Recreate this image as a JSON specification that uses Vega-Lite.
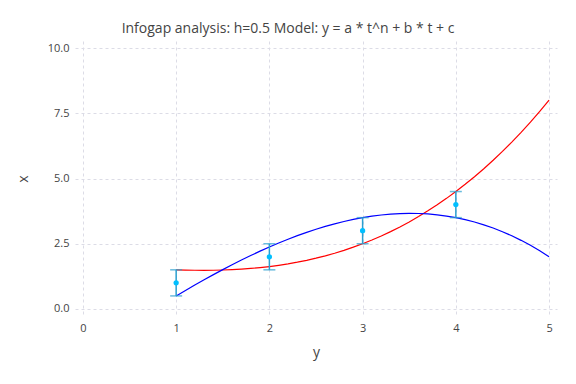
{
  "$schema": "https://vega.github.io/schema/vega-lite/v6.json",
  "width": 482,
  "height": 275,
  "autosize": "none",
  "padding": {"left": 75, "top": 41, "right": 19, "bottom": 68},
  "background": "white",
  "title": {
    "text": "Infogap analysis: h=0.5 Model: y = a * t^n + b * t + c",
    "font": "Open Sans",
    "fontSize": 14,
    "fontWeight": "normal",
    "color": "#444444",
    "anchor": "middle",
    "dx": -28,
    "offset": 5
  },
  "config": {
    "view": {"stroke": null},
    "axis": {
      "labelFont": "Open Sans",
      "titleFont": "Open Sans",
      "labelColor": "#444444",
      "titleColor": "#444444",
      "labelFontSize": 11,
      "titleFontSize": 14,
      "titleFontWeight": "normal",
      "domain": false,
      "ticks": false,
      "gridColor": "#dcdce6",
      "gridDash": [3, 3],
      "gridWidth": 1
    }
  },
  "datasets": {
    "curves": [
      {"t": 1.0, "red": 1.5, "blue": 0.5},
      {"t": 1.1, "red": 1.4895, "blue": 0.7106},
      {"t": 1.2, "red": 1.483, "blue": 0.917},
      {"t": 1.3, "red": 1.481, "blue": 1.119},
      {"t": 1.4, "red": 1.484, "blue": 1.316},
      {"t": 1.5, "red": 1.4922, "blue": 1.5078},
      {"t": 1.6, "red": 1.506, "blue": 1.694},
      {"t": 1.7, "red": 1.5258, "blue": 1.8742},
      {"t": 1.8, "red": 1.552, "blue": 2.048},
      {"t": 1.9, "red": 1.5849, "blue": 2.2151},
      {"t": 2.0, "red": 1.625, "blue": 2.375},
      {"t": 2.1, "red": 1.6726, "blue": 2.5274},
      {"t": 2.2, "red": 1.728, "blue": 2.672},
      {"t": 2.3, "red": 1.7917, "blue": 2.8083},
      {"t": 2.4, "red": 1.864, "blue": 2.936},
      {"t": 2.5, "red": 1.9453, "blue": 3.0547},
      {"t": 2.6, "red": 2.036, "blue": 3.164},
      {"t": 2.7, "red": 2.1364, "blue": 3.2636},
      {"t": 2.8, "red": 2.247, "blue": 3.353},
      {"t": 2.9, "red": 2.368, "blue": 3.432},
      {"t": 3.0, "red": 2.5, "blue": 3.5},
      {"t": 3.1, "red": 2.6432, "blue": 3.5569},
      {"t": 3.2, "red": 2.798, "blue": 3.602},
      {"t": 3.3, "red": 2.9648, "blue": 3.6352},
      {"t": 3.4, "red": 3.144, "blue": 3.656},
      {"t": 3.5, "red": 3.3359, "blue": 3.6641},
      {"t": 3.6, "red": 3.541, "blue": 3.659},
      {"t": 3.7, "red": 3.7596, "blue": 3.6405},
      {"t": 3.8, "red": 3.992, "blue": 3.608},
      {"t": 3.9, "red": 4.2387, "blue": 3.5614},
      {"t": 4.0, "red": 4.5, "blue": 3.5},
      {"t": 4.1, "red": 4.7763, "blue": 3.4237},
      {"t": 4.2, "red": 5.068, "blue": 3.332},
      {"t": 4.3, "red": 5.3754, "blue": 3.2246},
      {"t": 4.4, "red": 5.699, "blue": 3.101},
      {"t": 4.5, "red": 6.0391, "blue": 2.961},
      {"t": 4.6, "red": 6.396, "blue": 2.804},
      {"t": 4.7, "red": 6.7701, "blue": 2.6299},
      {"t": 4.8, "red": 7.162, "blue": 2.438},
      {"t": 4.9, "red": 7.5718, "blue": 2.2282},
      {"t": 5.0, "red": 8.0, "blue": 2.0}
    ],
    "obs": [
      {"t": 1, "v": 1, "lo": 0.5, "hi": 1.5},
      {"t": 2, "v": 2, "lo": 1.5, "hi": 2.5},
      {"t": 3, "v": 3, "lo": 2.5, "hi": 3.5},
      {"t": 4, "v": 4, "lo": 3.5, "hi": 4.5}
    ]
  },
  "encoding": {
    "x": {
      "field": "t",
      "type": "quantitative",
      "scale": {"domain": [-0.085, 5.085], "nice": false, "zero": false},
      "axis": {"title": "y", "values": [0, 1, 2, 3, 4, 5], "format": "d", "labelPadding": 6, "titlePadding": 12}
    }
  },
  "layer": [
    {
      "data": {"name": "curves"},
      "mark": {"type": "line", "color": "#ff0000", "strokeWidth": 1.2},
      "encoding": {
        "y": {
          "field": "red",
          "type": "quantitative",
          "scale": {"domain": [-0.27, 10.27], "nice": false, "zero": false},
          "axis": {"title": "x", "values": [0, 2.5, 5, 7.5, 10], "format": ".1f", "labelPadding": 6, "titlePadding": 17}
        }
      }
    },
    {
      "data": {"name": "curves"},
      "mark": {"type": "line", "color": "#0000ff", "strokeWidth": 1.2},
      "encoding": {"y": {"field": "blue", "type": "quantitative"}}
    },
    {
      "data": {"name": "obs"},
      "mark": {"type": "rule", "color": "#2a9fd0", "strokeWidth": 1.5},
      "encoding": {"y": {"field": "lo", "type": "quantitative"}, "y2": {"field": "hi"}}
    },
    {
      "data": {"name": "obs"},
      "mark": {"type": "tick", "orient": "horizontal", "color": "#2a9fd0", "size": 12, "thickness": 1.5},
      "encoding": {"y": {"field": "lo", "type": "quantitative"}}
    },
    {
      "data": {"name": "obs"},
      "mark": {"type": "tick", "orient": "horizontal", "color": "#2a9fd0", "size": 12, "thickness": 1.5},
      "encoding": {"y": {"field": "hi", "type": "quantitative"}}
    },
    {
      "data": {"name": "obs"},
      "mark": {"type": "point", "filled": true, "color": "#00bfff", "opacity": 1, "size": 28},
      "encoding": {"y": {"field": "v", "type": "quantitative"}}
    }
  ]
}
